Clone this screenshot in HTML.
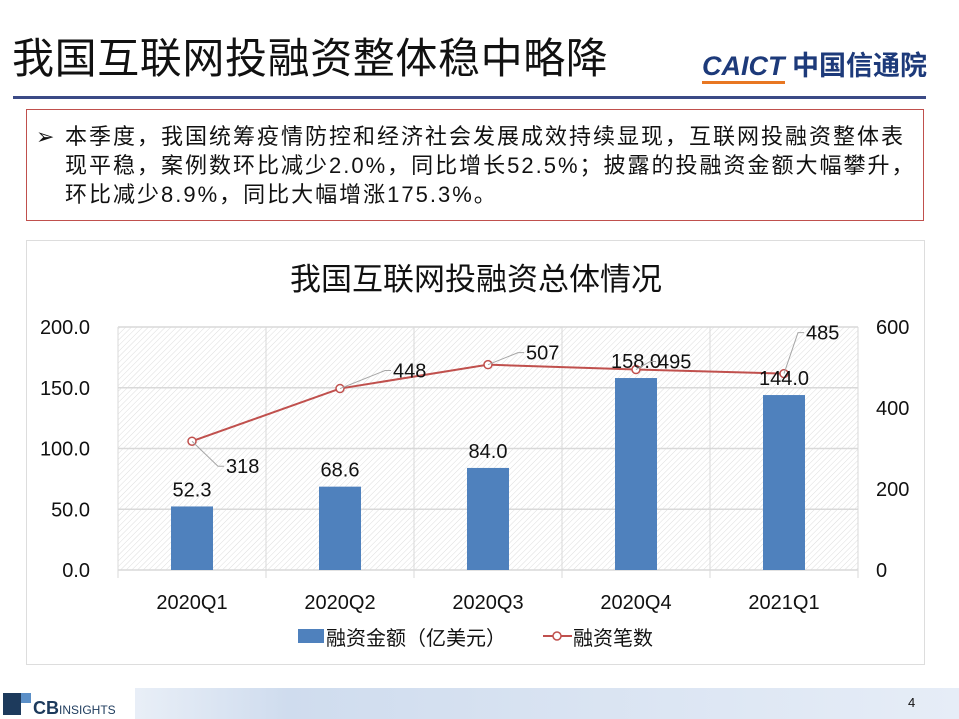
<!DOCTYPE html>
<html><head><meta charset="utf-8"><style>
body{margin:0;width:959px;height:719px;background:#fff;position:relative;overflow:hidden;font-family:"Liberation Sans","Noto Sans CJK SC",sans-serif}
.abs{position:absolute}
</style></head><body>
<div class="abs" style="left:12px;top:25px;font-size:42px;letter-spacing:0.6px;color:#111;white-space:nowrap">我国互联网投融资整体稳中略降</div>
<div class="abs" style="left:702px;top:44px;font-size:27px;font-weight:bold;color:#1d3a7a;white-space:nowrap"><span style="font-style:italic;border-bottom:3px solid #e87722">CAICT</span> 中国信通院</div>
<div class="abs" style="left:13px;top:96px;width:913px;height:3px;background:#3b4a86"></div>
<div class="abs" style="left:26px;top:109px;width:898px;height:112px;border:1px solid #c0504d;box-sizing:border-box;"></div>
<div class="abs" style="left:36px;top:122px;width:900px;font-size:22px;letter-spacing:2px;line-height:29px;color:#111;white-space:nowrap">
<span style="position:absolute;left:0;top:0">➢</span>
<div style="margin-left:29px">本季度，我国统筹疫情防控和经济社会发展成效持续显现，互联网投融资整体表<br>现平稳，案例数环比减少2.0%，同比增长52.5%；披露的投融资金额大幅攀升，<br>环比减少8.9%，同比大幅增涨175.3%。</div></div>
<div class="abs" style="left:26px;top:240px;width:899px;height:425px;border:1px solid #ddd;box-sizing:border-box"></div>
<svg class="abs" style="left:0;top:0" width="959" height="719">
<defs><pattern id="hatch" width="4" height="4" patternUnits="userSpaceOnUse" patternTransform="rotate(45)"><rect width="4" height="4" fill="#fff"/><line x1="0" y1="0" x2="0" y2="4" stroke="#ddd" stroke-width="1"/></pattern>
<linearGradient id="foot" x1="0" x2="1"><stop offset="0" stop-color="#ffffff"/><stop offset="0.3" stop-color="#cfdcee"/><stop offset="1" stop-color="#e6edf7"/></linearGradient></defs>
<text x="476" y="290" font-size="31" text-anchor="middle" fill="#111">我国互联网投融资总体情况</text>
<rect x="118" y="327" width="740" height="243" fill="url(#hatch)"/>
<g id="grid"></g><g id="bars"></g><g id="line"></g><g id="labels"></g><g id="axes"></g>
<g>
<rect x="298" y="629" width="26" height="14" fill="#4f81bd"/>
<text x="326" y="645" font-size="20" fill="#111">融资金额（亿美元）</text>
<line x1="543" y1="636" x2="572" y2="636" stroke="#c0504d" stroke-width="2"/>
<circle cx="557" cy="636" r="4" fill="#fff" stroke="#c0504d" stroke-width="1.5"/>
<text x="573" y="645" font-size="20" fill="#111">融资笔数</text></g>
<rect x="0" y="688" width="959" height="31" fill="url(#foot)"/>
<rect x="0" y="688" width="135" height="31" fill="#fff"/>
<rect x="3" y="693" width="18" height="22" fill="#1d3a5c"/>
<rect x="21" y="693" width="10" height="10" fill="#5b8fc7"/>
<text x="33" y="714" font-size="18" font-weight="bold" fill="#1d3a5c">CB<tspan font-size="12" font-weight="normal">INSIGHTS</tspan></text>
<text x="908" y="707" font-size="13" fill="#111">4</text>
</svg>
<script>
const categories=["2020Q1","2020Q2","2020Q3","2020Q4","2021Q1"];
const amounts=[52.3,68.6,84.0,158.0,144.0];
const counts=[318,448,507,495,485];
const leftTicks=["0.0","50.0","100.0","150.0","200.0"];
const rightTicks=["0","200","400","600"];
const NS="http://www.w3.org/2000/svg";
const X0=118,X1=858,Y0=570,Y1=327;
const bw=(X1-X0)/categories.length;
const xc=i=>X0+bw*(i+0.5);
const yl=v=>Y0-(v/200)*(Y0-Y1);
const yr=v=>Y0-(v/600)*(Y0-Y1);
function mk(tag,attrs,parent,txt){const e=document.createElementNS(NS,tag);for(const k in attrs)e.setAttribute(k,attrs[k]);if(txt!==undefined)e.textContent=txt;document.getElementById(parent).appendChild(e);return e;}
leftTicks.forEach((t,i)=>{const v=i*50,y=yl(v);
 const g=mk('line',{x1:X0,x2:X1,y1:y,y2:y,stroke:'#d9d9d9','stroke-width':1.5},'grid');
 
 
 const tx=mk('text',{x:90,y:y+7,'font-size':20,'text-anchor':'end',fill:'#111'},'axes',t);
 
 });
rightTicks.forEach((t,i)=>{const y=yr(i*200);
 const tx=mk('text',{x:876,y:y+7,'font-size':20,fill:'#111'},'axes',t);
 
 });
for(let i=0;i<=categories.length;i++){const x=X0+bw*i;
 mk('line',{x1:x,x2:x,y1:Y1,y2:Y0+8,stroke:'#d9d9d9','stroke-width':1},'grid');}
categories.forEach((c,i)=>{
 const tx=mk('text',{x:xc(i),y:609,'font-size':20,'text-anchor':'middle',fill:'#111'},'axes',c);
 
 
 const b=mk('rect',{x:xc(i)-21,y:yl(amounts[i]),width:42,height:Y0-yl(amounts[i]),fill:'#4f81bd'},'bars');
 
 
 const l=mk('text',{x:xc(i),y:yl(amounts[i])-10,'font-size':20,'text-anchor':'middle',fill:'#111'},'labels',amounts[i].toFixed(1));
 
 });
const pts=counts.map((v,i)=>xc(i)+','+yr(v)).join(' ');
const pl=mk('polyline',{points:pts,fill:'none',stroke:'#c0504d','stroke-width':2},'line');


const off=[[34,25],[53,-18],[38,-12],[22,-8],[22,-41]];
counts.forEach((v,i)=>{const x=xc(i),y=yr(v);
 const p=mk('circle',{cx:x,cy:y,r:4,fill:'#fff',stroke:'#c0504d','stroke-width':1.5},'line');
 
 
 const [dx,dy]=off[i];
 mk('polyline',{points:`${x},${y} ${x+dx-8},${y+dy} ${x+dx-2},${y+dy}`,fill:'none',stroke:'#a6a6a6','stroke-width':1},'labels');
 const t=mk('text',{x:x+dx,y:y+dy+7,'font-size':20,fill:'#111'},'labels',v);
 
 });
</script>
</body></html>
